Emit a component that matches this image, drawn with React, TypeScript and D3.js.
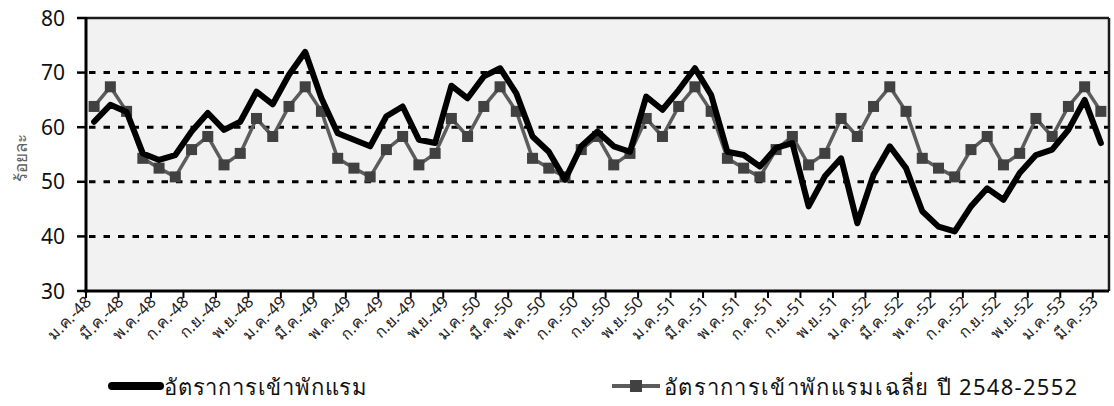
import React from 'react';
import * as d3 from 'd3';

// Thai month abbreviations and Buddhist-era year suffixes (2548–2553)
const MONTHS = ['ม.ค.', 'ก.พ.', 'มี.ค.', 'เม.ย.', 'พ.ค.', 'มิ.ย.', 'ก.ค.', 'ส.ค.', 'ก.ย.', 'ต.ค.', 'พ.ย.', 'ธ.ค.'];
const YEARS = ['48', '49', '50', '51', '52', '53'];

// Monthly occupancy rate (%), ม.ค.-48 … มี.ค.-53
const occupancy = [
  61.0, 64.1, 62.8, 55.2, 54.0, 54.9, 59.2, 62.6, 59.5, 61.0, 66.5, 64.2,
  69.6, 73.8, 65.3, 58.9, 57.7, 56.5, 62.0, 63.8, 57.7, 57.1, 67.6, 65.3,
  69.3, 70.8, 66.2, 58.3, 55.5, 50.4, 56.5, 59.2, 56.5, 55.5, 65.6, 63.2,
  66.8, 70.8, 65.9, 55.5, 54.9, 52.8, 56.2, 57.1, 45.5, 51.0, 54.3, 42.4,
  51.3, 56.5, 52.5, 44.6, 41.8, 40.9, 45.5, 48.8, 46.7, 51.6, 54.9, 55.9,
  59.5, 65.0, 57.1,
];

// Average occupancy rate 2548–2552 for the same calendar month
const average = [
  63.8, 67.4, 62.9, 54.3, 52.5, 50.9, 55.9, 58.3, 53.1, 55.2, 61.6, 58.3,
  63.8, 67.4, 62.9, 54.3, 52.5, 50.9, 55.9, 58.3, 53.1, 55.2, 61.6, 58.3,
  63.8, 67.4, 62.9, 54.3, 52.5, 50.9, 55.9, 58.3, 53.1, 55.2, 61.6, 58.3,
  63.8, 67.4, 62.9, 54.3, 52.5, 50.9, 55.9, 58.3, 53.1, 55.2, 61.6, 58.3,
  63.8, 67.4, 62.9, 54.3, 52.5, 50.9, 55.9, 58.3, 53.1, 55.2, 61.6, 58.3,
  63.8, 67.4, 62.9,
];

const Y_TICKS = [30, 40, 50, 60, 70, 80];
const GRID_VALUES = [40, 50, 60, 70];

const SERIES_NAMES = ['อัตราการเข้าพักแรม', 'อัตราการเข้าพักแรมเฉลี่ย ปี 2548-2552'];
const Y_TITLE = 'ร้อยละ';

const categories = occupancy.map((_, i) => `${MONTHS[i % 12]}-${YEARS[Math.floor(i / 12)]}`);

const W = 1114;
const H = 406;
const PLOT = { left: 86, right: 1109, top: 18, bottom: 291 };
const FONT = '"Noto Sans", "Open Sans", "DejaVu Sans", sans-serif';

export default function App() {
  const x = d3.scaleBand<string>().domain(categories).range([PLOT.left, PLOT.right]).padding(0);
  const y = d3.scaleLinear().domain([30, 80]).range([PLOT.bottom, PLOT.top]);
  const bw = x.bandwidth();
  const cx = (i: number) => (x(categories[i]) as number) + bw / 2;

  const line = d3
    .line<number>()
    .x((_, i) => cx(i))
    .y((d) => y(d));

  const tickIdx = categories.map((_, i) => i).filter((i) => i % 2 === 0);

  return (
    <svg
      width={W}
      height={H}
      style={{ position: 'absolute', left: 0, top: 0, background: '#fff' }}
      fontFamily={FONT}
    >
      {/* plot background */}
      <rect
        x={PLOT.left}
        y={PLOT.top}
        width={PLOT.right - PLOT.left}
        height={PLOT.bottom - PLOT.top}
        fill="#f2f2f2"
      />

      {/* dashed gridlines */}
      {GRID_VALUES.map((v) => (
        <line
          key={v}
          x1={PLOT.left + 3}
          x2={PLOT.right}
          y1={y(v)}
          y2={y(v)}
          stroke="#000"
          strokeWidth={3}
          strokeDasharray="6.5 8"
        />
      ))}

      {/* plot frame */}
      <line x1={PLOT.left} x2={PLOT.right} y1={PLOT.top} y2={PLOT.top} stroke="#1c1c1c" strokeWidth={2.5} />
      <line x1={PLOT.right} x2={PLOT.right} y1={PLOT.top} y2={PLOT.bottom} stroke="#1c1c1c" strokeWidth={2.5} />

      {/* average series with square markers */}
      <path d={line(average) || ''} fill="none" stroke="#5c5c5c" strokeWidth={3.5} strokeLinejoin="round" />
      {average.map((v, i) => (
        <rect key={i} x={cx(i) - 5.5} y={y(v) - 5.5} width={11} height={11} fill="#414141" />
      ))}

      {/* monthly occupancy series */}
      <path
        d={line(occupancy) || ''}
        fill="none"
        stroke="#000"
        strokeWidth={6}
        strokeLinejoin="round"
        strokeLinecap="round"
      />

      {/* y axis */}
      <line x1={PLOT.left} x2={PLOT.left} y1={PLOT.top - 1} y2={PLOT.bottom + 1.5} stroke="#000" strokeWidth={3} />
      {Y_TICKS.map((v) => (
        <g key={v}>
          <line x1={PLOT.left - 9} x2={PLOT.left} y1={y(v)} y2={y(v)} stroke="#000" strokeWidth={2.5} />
          <text x={PLOT.left - 21} y={y(v) + 7.5} textAnchor="end" fontSize={21} fill="#111">
            {v}
          </text>
        </g>
      ))}
      <text
        transform={`translate(27,158) rotate(-90)`}
        textAnchor="middle"
        fontSize={17}
        fill="#606060"
      >
        {Y_TITLE}
      </text>

      {/* x axis */}
      <line x1={PLOT.left - 1.5} x2={PLOT.right} y1={PLOT.bottom} y2={PLOT.bottom} stroke="#000" strokeWidth={3} />
      {tickIdx.map((i) => (
        <line
          key={i}
          x1={x(categories[i]) as number}
          x2={x(categories[i]) as number}
          y1={PLOT.bottom}
          y2={PLOT.bottom + 7}
          stroke="#000"
          strokeWidth={2}
        />
      ))}
      {tickIdx.map((i) => (
        <text
          key={i}
          transform={`translate(${cx(i) - 2},${PLOT.bottom + 12}) rotate(-45)`}
          textAnchor="end"
          fontSize={16}
          fill="#222"
        >
          {categories[i]}
        </text>
      ))}

      {/* legend */}
      <line x1={112} x2={160} y1={386} y2={386} stroke="#000" strokeWidth={8} strokeLinecap="round" />
      <text x={164} y={395} fontSize={22} letterSpacing={0.8} fill="#111">
        {SERIES_NAMES[0]}
      </text>
      <line x1={612} x2={660} y1={386} y2={386} stroke="#5c5c5c" strokeWidth={4} />
      <rect x={630} y={380} width={12} height={12} fill="#414141" />
      <text x={664} y={395} fontSize={22} letterSpacing={1.3} fill="#111">
        {SERIES_NAMES[1]}
      </text>
    </svg>
  );
}
